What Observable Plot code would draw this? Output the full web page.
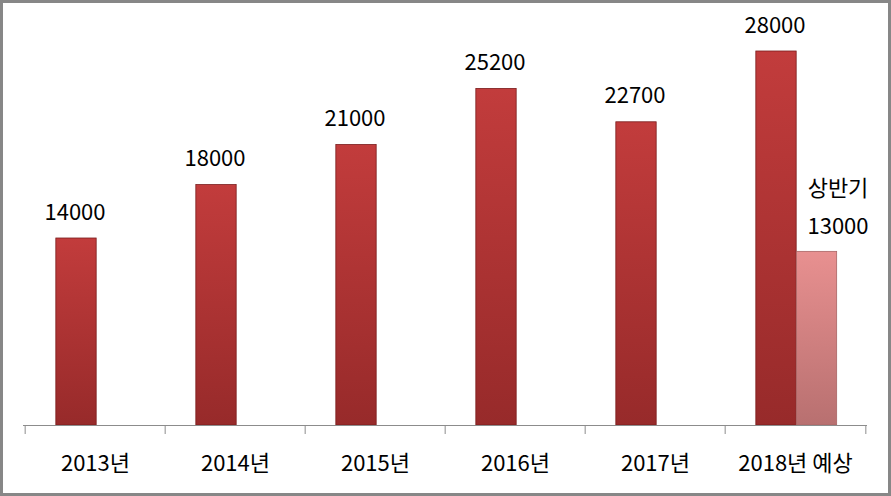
<!DOCTYPE html>
<html>
<head>
<meta charset="utf-8">
<script src="https://cdn.jsdelivr.net/npm/d3@7"></script>
<script src="https://cdn.jsdelivr.net/npm/@observablehq/plot@0.6"></script>
<style>
  html, body { margin: 0; padding: 0; background: #fff; }
  #chart svg { display: block; outline: 3px solid #878787; outline-offset: -3px; }
</style>
</head>
<body>
<div id="chart"></div>
<script>
const years = ["2013년", "2014년", "2015년", "2016년", "2017년", "2018년 예상"];
const totals = [14000, 18000, 21000, 25200, 22700, 28000];
const halfYear = "2018년 예상";
const halfName = "상반기";
const halfValue = 13000;

const totalData = years.map((y, i) => ({year: y, value: totals[i]}));
const halfData = [{year: halfYear, value: halfValue, label: halfName + "\n" + halfValue}];

const W = 891, H = 496, ML = 23, MR = 24, MT = 51, MB = 71;
const bw = (W - ML - MR) / years.length;
const barW = 41;
const FONT = "'Noto Sans CJK KR', 'Noto Sans', sans-serif";

const chart = Plot.plot({
  width: W,
  height: H,
  marginLeft: ML,
  marginRight: MR,
  marginTop: MT,
  marginBottom: MB,
  style: {fontFamily: FONT, fontSize: "22px", color: "#000", background: "#fff"},
  x: {domain: years, padding: 0, label: null},
  y: {domain: [0, 28000], axis: null},
  marks: [
    Plot.barY(totalData, {
      x: "year", y: "value",
      insetLeft: bw / 2 - barW + 1.5, insetRight: bw / 2 - 1.5,
      fill: "url(#gradDark)", stroke: "#7a1c1c", strokeWidth: 0.8
    }),
    Plot.barY(halfData, {
      x: "year", y: "value",
      insetLeft: bw / 2 + 1, insetRight: bw / 2 - barW - 1,
      fill: "url(#gradLight)", stroke: "#a86464", strokeWidth: 0.8
    }),
    Plot.text(totalData, {
      x: "year", y: "value", text: d => String(d.value),
      dx: -barW / 2, dy: -19, lineAnchor: "bottom",
      fontSize: 22, fill: "#000"
    }),
    Plot.text(halfData, {
      x: "year", y: "value", text: "label",
      dx: barW / 2 + 22, dy: -18, lineAnchor: "bottom", lineHeight: 1.7,
      fontSize: 22, fill: "#000"
    }),
    Plot.ruleY([0], {stroke: "#8c8c8c", strokeWidth: 1}),
    Plot.ruleX(years, {x: d => d, y1: 0, y2: 0, insetBottom: -9, dx: -bw / 2, stroke: "#8c8c8c", strokeWidth: 1}),
    Plot.ruleX([years[years.length - 1]], {x: d => d, y1: 0, y2: 0, insetBottom: -9, dx: bw / 2, stroke: "#8c8c8c", strokeWidth: 1}),
    Plot.axisX({tickSize: 0, tickPadding: 30, fontSize: 22, fill: "#000", label: null})
  ]
});

const svg = d3.select(chart);
const defs = svg.insert("defs", ":first-child");
const gd = defs.append("linearGradient").attr("id", "gradDark").attr("x1", 0).attr("y1", 0).attr("x2", 0).attr("y2", 1);
gd.append("stop").attr("offset", "0%").attr("stop-color", "#c23c3c");
gd.append("stop").attr("offset", "100%").attr("stop-color", "#972a2a");
const gl = defs.append("linearGradient").attr("id", "gradLight").attr("x1", 0).attr("y1", 0).attr("x2", 0).attr("y2", 1);
gl.append("stop").attr("offset", "0%").attr("stop-color", "#e89090");
gl.append("stop").attr("offset", "100%").attr("stop-color", "#b87070");

document.getElementById("chart").appendChild(chart);
</script>
</body>
</html>
